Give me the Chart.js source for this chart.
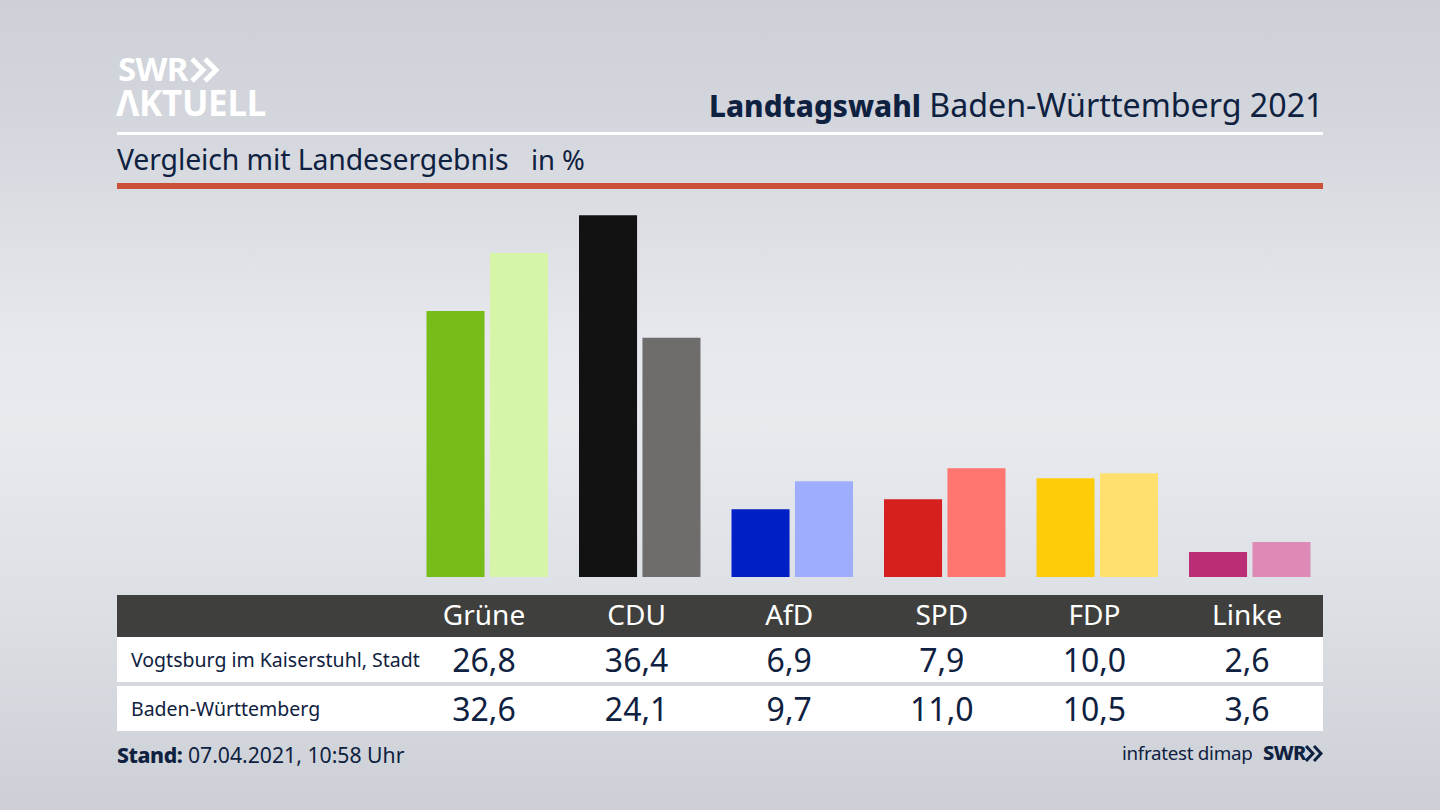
<!DOCTYPE html>
<html lang="de"><head><meta charset="utf-8">
<script src="https://cdn.jsdelivr.net/npm/chart.js@4"></script>
<style>
html,body{margin:0;padding:0;width:1440px;height:810px;overflow:hidden}
body{position:relative;font-family:"Noto Sans",sans-serif;color:#0f2140;
background:linear-gradient(180deg,#cdd0d7 0%,#d3d6dc 15%,#e6e8ed 42%,#e8eaee 52%,#dcdfe4 75%,#ccd0d6 100%)}
.t{position:absolute;white-space:nowrap;line-height:1}
.r{position:absolute;left:117px;width:1206px}
.c{position:absolute;transform:translateX(-50%);white-space:nowrap;line-height:1}
#wrap{position:absolute;left:410.600px;top:199px;width:915px;height:378px}
</style></head><body>
<div class="t" style="left:118px;top:52px;font-size:33px;font-weight:700;color:#fff;letter-spacing:-.7px">SWR</div>
<svg style="position:absolute;left:190px;top:57px" width="30" height="26"><g fill="none" stroke="#fff" stroke-width="5"><path d="M2 2L13 13L2 24"/><path d="M15 2L26 13L15 24"/></g></svg>
<div class="t" style="left:116px;top:85px;font-size:35px;font-weight:700;color:#fff;letter-spacing:-.3px">ΛKTUELL</div>
<div class="t" style="right:116.500px;top:89px;font-size:32.2px"><b style="font-size:29.700px;font-weight:800">Landtagswahl</b> Baden-Württemberg 2021</div>
<div class="r" style="top:132px;height:3px;background:#fff"></div>
<div class="t" style="left:117px;top:145px;font-size:28.4px;letter-spacing:-.1px">Vergleich mit Landesergebnis</div>
<div class="t" style="left:531px;top:146px;font-size:27.400px">in %</div>
<div class="r" style="top:183px;height:6px;background:#cb5038"></div>
<div id="wrap"><canvas id="c"></canvas></div>
<div class="r" style="top:595px;height:42px;background:#3f3f3d"></div>
<div class="r" style="top:637px;height:45px;background:#fff"></div>
<div class="r" style="top:686px;height:45px;background:#fff"></div>
<div id="cells"></div>
<div class="t" style="left:117px;top:744px;font-size:21.200px"><b style="font-weight:800;letter-spacing:-.4px">Stand:</b> 07.04.2021, 10:58 Uhr</div>
<div class="t" style="left:1122px;top:744px;font-size:18.8px;letter-spacing:-.3px">infratest dimap</div>
<div class="t" style="left:1263px;top:743px;font-size:20px;font-weight:800;letter-spacing:-.6px">SWR</div>
<svg style="position:absolute;left:1305px;top:745px" width="19" height="17"><g fill="none" stroke="#0f2140" stroke-width="3"><path d="M1 1L8 8.500L1 16"/><path d="M9 1L16 8.500L9 16"/></g></svg>
<script>
const categories=["Grüne","CDU","AfD","SPD","FDP","Linke"];
const rowLabels=["Vogtsburg im Kaiserstuhl, Stadt","Baden-Württemberg"];
const localValues=[26.8,36.4,6.9,7.9,10.0,2.6];
const stateValues=[32.6,24.1,9.7,11.0,10.5,3.6];
const localColors=["#78bc1a","#121212","#001fc4","#d6201f","#ffcc0a","#b92e74"];
const stateColors=["#d6f5a8","#6f6d6b","#9fadff","#ff7670","#ffe06e","#de8ab7"];
Chart.defaults.animation=false;
new Chart(document.getElementById("c"),{type:"bar",
 data:{labels:categories,datasets:[
  {label:rowLabels[0],data:localValues,backgroundColor:localColors},
  {label:rowLabels[1],data:stateValues,backgroundColor:stateColors}]},
 options:{responsive:true,maintainAspectRatio:false,animation:false,
  categoryPercentage:.832,barPercentage:.915,
  layout:{padding:0},
  plugins:{legend:{display:false},tooltip:{enabled:false}},
  scales:{x:{display:false},y:{display:false,min:0.1,max:38.03}}}});
const box=document.getElementById("cells");
const fmt=v=>v.toFixed(1).replace(".",",");
function cell(txt,x,top,size,color){const d=document.createElement("div");d.className="c";d.textContent=txt;
 d.style.cssText=`left:${x}px;top:${top}px;font-size:${size}px;color:${color}`;box.appendChild(d);}
const step=152.6;
categories.forEach((c,i)=>{const x=484+i*step;
 cell(c,x,600,28,"#fff");
 cell(fmt(localValues[i]),x,643.5,32,"#0f2140");
 cell(fmt(stateValues[i]),x,692.5,32,"#0f2140");});
rowLabels.forEach((r,i)=>{const d=document.createElement("div");d.className="t";d.textContent=r;
 d.style.cssText=`left:131px;top:${[649.5,698.5][i]}px;font-size:19.5px`;box.appendChild(d);});
</script>
</body></html>
